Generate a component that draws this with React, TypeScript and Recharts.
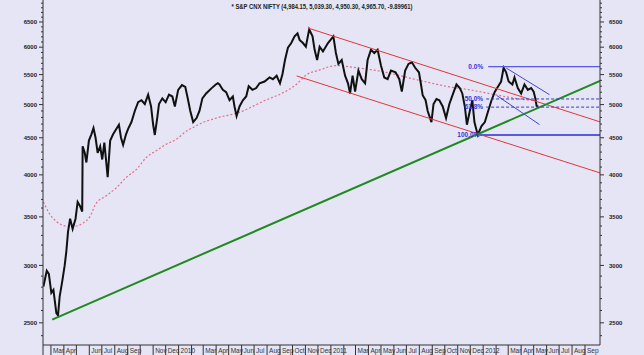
import { ComposedChart, Line, XAxis, YAxis, ReferenceLine } from 'recharts';

const FONT = '"Liberation Sans", Arial, sans-serif';
const BG = '#e5e5f5';

// daily S&P CNX Nifty as [date, close]
const nifty: [string, number][] = [
  ['2009-02-11', 2806], ['2009-02-19', 2950], ['2009-02-24', 2920], ['2009-03-02', 2750],
  ['2009-03-07', 2776], ['2009-03-14', 2578], ['2009-03-18', 2560], ['2009-03-22', 2720],
  ['2009-03-28', 2850], ['2009-04-03', 3000], ['2009-04-07', 3140], ['2009-04-11', 3340],
  ['2009-04-16', 3480], ['2009-04-22', 3370], ['2009-04-29', 3480], ['2009-05-04', 3670],
  ['2009-05-10', 3620], ['2009-05-15', 3560], ['2009-05-16', 4380], ['2009-05-21', 4290],
  ['2009-05-25', 4160], ['2009-05-31', 4460], ['2009-06-06', 4550], ['2009-06-11', 4640],
  ['2009-06-16', 4500], ['2009-06-21', 4290], ['2009-06-27', 4380], ['2009-07-02', 4200],
  ['2009-07-07', 4430], ['2009-07-11', 4200], ['2009-07-15', 3970], ['2009-07-21', 4460],
  ['2009-07-28', 4550], ['2009-08-05', 4630], ['2009-08-11', 4690], ['2009-08-16', 4500],
  ['2009-08-21', 4400], ['2009-08-28', 4550], ['2009-09-02', 4630], ['2009-09-10', 4730],
  ['2009-09-18', 4900], ['2009-09-26', 5040], ['2009-10-04', 5070], ['2009-10-12', 5010],
  ['2009-10-20', 5160], ['2009-10-27', 4970], ['2009-11-01', 4690], ['2009-11-05', 4540],
  ['2009-11-11', 4800], ['2009-11-15', 5010], ['2009-11-23', 5100], ['2009-12-01', 5040],
  ['2009-12-09', 5160], ['2009-12-17', 5130], ['2009-12-23', 4970], ['2009-12-31', 5240],
  ['2010-01-09', 5320], ['2010-01-17', 5290], ['2010-01-22', 5130], ['2010-01-29', 4900],
  ['2010-02-05', 4730], ['2010-02-13', 4790], ['2010-02-20', 4900], ['2010-02-27', 5100],
  ['2010-03-08', 5180], ['2010-03-20', 5260], ['2010-03-31', 5330], ['2010-04-05', 5350],
  ['2010-04-09', 5330], ['2010-04-17', 5240], ['2010-04-25', 5200], ['2010-05-03', 5070],
  ['2010-05-11', 5130], ['2010-05-15', 4970], ['2010-05-20', 4820], ['2010-05-27', 4970],
  ['2010-06-04', 5070], ['2010-06-12', 5130], ['2010-06-18', 5300], ['2010-06-27', 5240],
  ['2010-07-06', 5270], ['2010-07-14', 5350], ['2010-07-26', 5380], ['2010-08-07', 5450],
  ['2010-08-15', 5420], ['2010-08-24', 5480], ['2010-09-01', 5350], ['2010-09-07', 5510],
  ['2010-09-13', 5760], ['2010-09-20', 5990], ['2010-09-28', 6080], ['2010-10-06', 6210],
  ['2010-10-13', 6270], ['2010-10-18', 6140], ['2010-10-26', 6080], ['2010-11-02', 6010],
  ['2010-11-10', 6350], ['2010-11-18', 6210], ['2010-11-23', 5950], ['2010-11-29', 5760],
  ['2010-12-05', 6010], ['2010-12-13', 5920], ['2010-12-25', 6080], ['2011-01-07', 6210],
  ['2011-01-13', 5890], ['2011-01-19', 5690], ['2011-01-27', 5760], ['2011-02-04', 5480],
  ['2011-02-11', 5350], ['2011-02-16', 5180], ['2011-02-22', 5480], ['2011-02-28', 5210],
  ['2011-03-08', 5570], ['2011-03-16', 5420], ['2011-03-24', 5350], ['2011-03-30', 5760],
  ['2011-04-07', 5950], ['2011-04-15', 5890], ['2011-04-23', 5950], ['2011-05-01', 5660],
  ['2011-05-09', 5450], ['2011-05-17', 5420], ['2011-05-25', 5570], ['2011-06-05', 5540],
  ['2011-06-14', 5420], ['2011-06-20', 5210], ['2011-06-28', 5570], ['2011-07-06', 5690],
  ['2011-07-14', 5720], ['2011-07-22', 5620], ['2011-07-31', 5540], ['2011-08-05', 5330],
  ['2011-08-09', 5150], ['2011-08-16', 5070], ['2011-08-21', 4900], ['2011-08-30', 4730],
  ['2011-09-04', 5010], ['2011-09-11', 5090], ['2011-09-18', 5070], ['2011-09-26', 4970],
  ['2011-10-04', 4790], ['2011-10-12', 5010], ['2011-10-20', 5160], ['2011-10-29', 5330],
  ['2011-11-06', 5270], ['2011-11-12', 5180], ['2011-11-18', 4970], ['2011-11-23', 4690],
  ['2011-11-30', 4900], ['2011-12-06', 5070], ['2011-12-11', 4730], ['2011-12-19', 4540],
  ['2011-12-28', 4670], ['2012-01-05', 4730], ['2012-01-13', 4900], ['2012-01-21', 5070],
  ['2012-01-29', 5210], ['2012-02-06', 5300], ['2012-02-13', 5380], ['2012-02-19', 5620],
  ['2012-02-25', 5540], ['2012-03-02', 5380], ['2012-03-11', 5330], ['2012-03-16', 5450],
  ['2012-03-24', 5270], ['2012-04-01', 5180], ['2012-04-09', 5330], ['2012-04-17', 5240],
  ['2012-04-25', 5270], ['2012-05-01', 5210], ['2012-05-05', 5100], ['2012-05-08', 4980],
  ['2012-05-12', 4966],
];

// moving average (red dotted)
const movingAvg: [string, number][] = [
  ['2009-02-11', 3670], ['2009-02-25', 3540], ['2009-03-14', 3450], ['2009-04-07', 3400],
  ['2009-04-30', 3400], ['2009-05-16', 3430], ['2009-06-02', 3500], ['2009-06-17', 3650],
  ['2009-07-11', 3740], ['2009-08-05', 3840], ['2009-08-29', 3970], ['2009-09-22', 4070],
  ['2009-10-16', 4230], ['2009-11-09', 4320], ['2009-12-03', 4410], ['2009-12-27', 4480],
  ['2010-01-21', 4600], ['2010-02-05', 4650], ['2010-02-27', 4720], ['2010-04-01', 4790],
  ['2010-05-27', 4880], ['2010-07-30', 5075], ['2010-09-08', 5190], ['2010-10-10', 5330],
  ['2010-11-04', 5500], ['2010-12-01', 5570], ['2011-01-15', 5660], ['2011-02-22', 5630],
  ['2011-05-13', 5540], ['2011-08-01', 5400], ['2011-10-20', 5280], ['2011-11-30', 5240],
  ['2012-01-29', 5160], ['2012-03-28', 5090], ['2012-05-10', 5060],
];

// trend lines: [start date, start price, end date, end price]
const greenTrend: [string, number, string, number] = ['2009-03-04', 2526, '2012-10-07', 5390];
const redUpper: [string, number, string, number] = ['2010-11-07', 6377, '2012-10-07', 4733];
const redLower: [string, number, string, number] = ['2010-10-11', 5476, '2012-10-07', 4025];
const blueUpper: [string, number, string, number] = ['2012-02-25', 5617, '2012-06-08', 5160];
const blueLower: [string, number, string, number] = ['2012-02-03', 5144, '2012-05-15', 4693];

const fibLabels = ['0.0%', '50.0%', '61.8%', '100.0%'];
const fibValues = [5640, 5090, 4960, 4540];
const fibStarts = ['2012-01-13', '2012-01-08', '2012-01-08', '2011-12-23'];

const monthTicks: [string, string][] = [
  ['2009-02-10', ''], ['2009-03-01', 'Mar'], ['2009-04-01', 'Apr'], ['2009-05-01', ''],
  ['2009-06-01', 'Jun'], ['2009-07-01', 'Jul'], ['2009-08-01', 'Aug'], ['2009-09-01', 'Sep'],
  ['2009-10-01', ''], ['2009-11-01', 'Nov'], ['2009-12-01', 'Dec'], ['2010-01-01', '2010'],
  ['2010-02-01', ''], ['2010-03-01', 'Mar'], ['2010-04-01', 'Apr'], ['2010-05-01', 'May'],
  ['2010-06-01', 'Jun'], ['2010-07-01', 'Jul'], ['2010-08-01', 'Aug'], ['2010-09-01', 'Sep'],
  ['2010-10-01', 'Oct'], ['2010-11-01', 'Nov'], ['2010-12-01', 'Dec'], ['2011-01-01', '2011'],
  ['2011-02-01', ''], ['2011-03-01', 'Mar'], ['2011-04-01', 'Apr'], ['2011-05-01', 'May'],
  ['2011-06-01', 'Jun'], ['2011-07-01', 'Jul'], ['2011-08-01', 'Aug'], ['2011-09-01', 'Sep'],
  ['2011-10-01', 'Oct'], ['2011-11-01', 'Nov'], ['2011-12-01', 'Dec'], ['2012-01-01', '2012'],
  ['2012-02-01', ''], ['2012-03-01', 'Mar'], ['2012-04-01', 'Apr'], ['2012-05-01', 'May'],
  ['2012-06-01', 'Jun'], ['2012-07-01', 'Jul'], ['2012-08-01', 'Aug'], ['2012-09-01', 'Sep'],
];

const yTicks = [
  2400, 2500, 2600, 2700, 2800, 2900, 3000, 3100, 3200, 3300, 3400, 3500, 3600, 3700, 3800, 3900,
  4000, 4100, 4200, 4300, 4400, 4500, 4600, 4700, 4800, 4900, 5000, 5100, 5200, 5300, 5400, 5500,
  5600, 5700, 5800, 5900, 6000, 6100, 6200, 6300, 6400, 6500, 6600, 6700, 6800, 6900,
];
const yLabels = [2500, 3000, 3500, 4000, 4500, 5000, 5500, 6000, 6500];

const xStart = '2009-02-10';
const xEnd = '2012-10-07';
const yMin = 2330;
const yMax = 6970;

const t = (d: string) => Date.parse(d);
const priceData = nifty.map(([d, c]) => ({ t: t(d), close: c }));
const maData = movingAvg.map(([d, v]) => ({ t: t(d), ma: v }));
const tickLabel: Record<number, string> = {};
monthTicks.forEach(([d, l]) => { tickLabel[t(d)] = l; });

const seg = (s: [string, number, string, number]) => [
  { x: t(s[0]), y: s[1] },
  { x: t(s[2]), y: s[3] },
];

function XTick({ x, y, payload }: any) {
  return (
    <g>
      <line x1={x} x2={x} y1={y} y2={y + 10} stroke="#333" />
      <text x={x + 2} y={y + 8} fontSize={6.5} fontFamily={FONT} fill="#333">
        {tickLabel[payload.value]}
      </text>
    </g>
  );
}

function YTick({ x, y, payload, side }: any) {
  const major = yLabels.includes(payload.value);
  const dir = side === 'left' ? -1 : 1;
  return (
    <g>
      <line x1={x} x2={x + dir * (major ? 4 : 2)} y1={y} y2={y} stroke="#333" />
      {major && (
        <text
          x={x + dir * (side === 'left' ? 6 : 9)}
          y={y + 2.2}
          textAnchor={side === 'left' ? 'end' : 'start'}
          fontSize={6}
          fontWeight={700}
          fontFamily={FONT}
          fill="#222"
        >
          {payload.value}
        </text>
      )}
    </g>
  );
}

export default function App() {
  return (
    <div style={{ position: 'fixed', left: 0, top: 0, width: 644, height: 355, background: BG }}>
      <ComposedChart width={644} height={355} margin={{ top: 0, right: 0, bottom: 0, left: 0 }}>
        <XAxis
          dataKey="t"
          type="number"
          domain={[t(xStart), t(xEnd)]}
          allowDataOverflow
          ticks={monthTicks.map(([d]) => t(d))}
          interval={0}
          height={10}
          tickSize={0}
          tickMargin={0}
          tickLine={false}
          axisLine={{ stroke: '#333' }}
          tick={<XTick />}
        />
        <YAxis
          yAxisId="left"
          orientation="left"
          width={43}
          scale="log"
          domain={[yMin, yMax]}
          allowDataOverflow
          ticks={yTicks}
          interval={0}
          tickSize={0}
          tickMargin={0}
          tickLine={false}
          axisLine={{ stroke: '#333' }}
          tick={<YTick side="left" />}
        />
        <YAxis
          yAxisId="right"
          orientation="right"
          width={44}
          scale="log"
          domain={[yMin, yMax]}
          allowDataOverflow
          ticks={yTicks}
          interval={0}
          tickSize={0}
          tickMargin={0}
          tickLine={false}
          axisLine={{ stroke: '#333' }}
          tick={<YTick side="right" />}
        />
        <Line
          yAxisId="left"
          data={maData}
          dataKey="ma"
          type="monotone"
          stroke="#e0708a"
          strokeWidth={1.2}
          strokeDasharray="2 2"
          dot={false}
          isAnimationActive={false}
        />
        <Line
          yAxisId="left"
          data={priceData}
          dataKey="close"
          type="linear"
          stroke="#111"
          strokeWidth={2}
          dot={false}
          isAnimationActive={false}
        />
        <ReferenceLine yAxisId="left" segment={seg(redUpper)} stroke="#e03838" strokeWidth={1} ifOverflow="hidden" />
        <ReferenceLine yAxisId="left" segment={seg(redLower)} stroke="#e03838" strokeWidth={1} ifOverflow="hidden" />
        <ReferenceLine yAxisId="left" segment={seg(greenTrend)} stroke="#1f8a1f" strokeWidth={2} ifOverflow="hidden" />
        <ReferenceLine yAxisId="left" segment={seg(blueUpper)} stroke="#4646d2" strokeWidth={1} ifOverflow="hidden" />
        <ReferenceLine yAxisId="left" segment={seg(blueLower)} stroke="#4646d2" strokeWidth={1} ifOverflow="hidden" />
        {fibLabels.map((lbl, i) => (
          <ReferenceLine
            key={lbl}
            yAxisId="left"
            segment={[
              { x: t(fibStarts[i]), y: fibValues[i] },
              { x: t(xEnd), y: fibValues[i] },
            ]}
            stroke={i === 1 || i === 2 ? '#3a3ac8' : '#5a5ae0'}
            strokeWidth={i === 3 ? 2 : i === 0 ? 1.4 : 1}
            strokeDasharray={i === 1 || i === 2 ? '3 2' : undefined}
            ifOverflow="hidden"
            label={{
              value: lbl,
              position: 'left',
              offset: i === 0 ? 5 : i === 3 ? 0 : 3,
              fill: '#3636d6',
              fontSize: 6.5,
              fontWeight: 700,
              fontFamily: FONT,
            }}
          />
        ))}
      </ComposedChart>
      <svg width={644} height={14} style={{ position: 'absolute', left: 0, top: 0, pointerEvents: 'none' }}>
        <text
          x={322}
          y={9}
          textAnchor="middle"
          fontSize={6.5}
          fontWeight={700}
          fontFamily={FONT}
          fill="#222"
          textLength={181}
          lengthAdjust="spacingAndGlyphs"
        >
          * S&amp;P CNX NIFTY (4,984.15, 5,039.30, 4,950.30, 4,965.70, -9.89961)
        </text>
      </svg>
    </div>
  );
}
